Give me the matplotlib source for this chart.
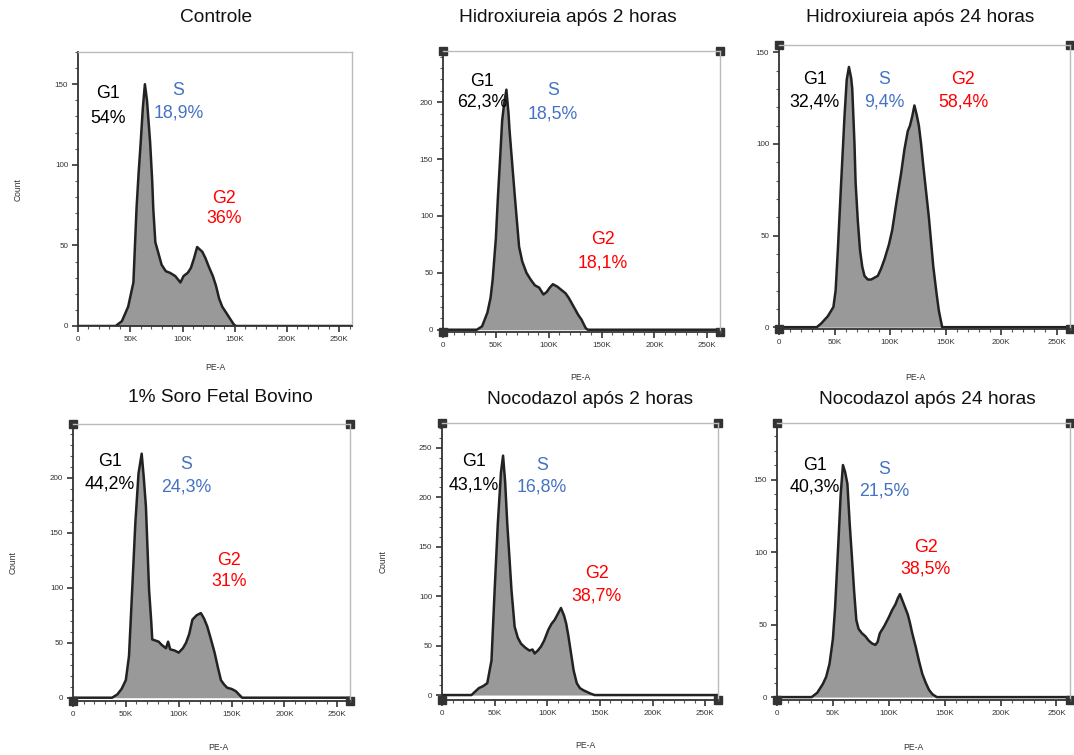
import numpy as np
import matplotlib
matplotlib.use('Agg')
import matplotlib.pyplot as plt
from matplotlib.ticker import MultipleLocator

plt.rcParams['font.family'] = ['Liberation Sans', 'DejaVu Sans']

# panel titles and gate percentages
titles = ['Controle', 'Hidroxiureia após 2 horas', 'Hidroxiureia após 24 horas',
          '1% Soro Fetal Bovino', 'Nocodazol após 2 horas', 'Nocodazol após 24 horas']
g1_pct = ['54%', '62,3%', '32,4%', '44,2%', '43,1%', '40,3%']
s_pct = ['18,9%', '18,5%', '9,4%', '24,3%', '16,8%', '21,5%']
g2_pct = ['36%', '18,1%', '58,4%', '31%', '38,7%', '38,5%']

# histogram outlines: PE-A (in K) and Count
pe_ctrl = [0, 36, 42, 48, 53, 56, 58, 60, 62, 64, 66, 69, 71, 72, 74, 77, 80, 84, 88, 93, 98,
           101, 105, 108, 111, 114, 119, 122, 125, 129, 132, 135, 138, 142, 145, 149, 151, 262]
cnt_ctrl = [0, 0, 3, 12, 27, 73, 95, 114, 135, 150, 140, 114, 90, 73, 52, 45, 38, 34, 33, 31, 27,
            31, 33, 36, 42, 49, 46, 42, 37, 31, 25, 17, 12, 8, 5, 1, 0, 0]

pe_hu2 = [0, 32, 37, 42, 45, 47, 50, 52, 54, 56, 58, 60, 62, 63, 66, 68, 70, 72, 75, 79, 83, 87,
          91, 95, 98, 101, 104, 108, 112, 116, 119, 122, 125, 128, 131, 135, 137, 262]
cnt_hu2 = [0, 0, 3, 15, 28, 44, 80, 117, 150, 184, 200, 211, 190, 175, 140, 117, 95, 73, 60, 50,
           44, 39, 37, 31, 33, 37, 40, 38, 35, 32, 28, 23, 18, 13, 9, 1.5, 0, 0]

pe_hu24 = [0, 34, 38, 44, 49, 51, 53, 56, 59, 61, 63, 65, 66, 68, 69, 71, 73, 75, 77, 80, 83, 86,
           89, 92, 95, 99, 102, 106, 110, 113, 116, 118, 120, 122, 124, 126, 128, 130, 135, 139,
           142, 144, 147, 262]
cnt_hu24 = [0, 0, 2, 6, 11, 20, 42, 79, 115, 135, 142, 136, 130, 100, 79, 58, 42, 33, 28, 26, 26,
            27, 28, 32, 37, 45, 53, 69, 84, 97, 107, 110, 115, 121, 116, 110, 100, 88, 60, 33,
            18, 9, 0, 0]

pe_sfb = [0, 37, 42, 46, 50, 53, 56, 59, 62, 65, 67, 69, 72, 74, 75, 78, 81, 84, 88, 90, 92, 96,
          100, 104, 107, 110, 113, 117, 121, 124, 127, 130, 134, 137, 140, 143, 146, 150, 154,
          157, 160, 262]
cnt_sfb = [0, 0, 3, 8, 16, 38, 98, 159, 204, 222, 200, 174, 98, 70, 53, 52, 51, 48, 45, 51, 44,
           43, 41, 45, 50, 58, 71, 75, 77, 72, 65, 55, 41, 28, 16, 12, 9, 8, 6, 3, 0, 0]

pe_noc2 = [0, 28, 32, 35, 39, 43, 47, 50, 53, 56, 58, 60, 62, 64, 66, 69, 72, 75, 79, 83, 86, 88,
           91, 94, 97, 101, 104, 107, 110, 113, 116, 118, 120, 123, 125, 128, 131, 134, 137, 141,
           145, 262]
cnt_noc2 = [0, 0, 4, 7, 9, 12, 35, 106, 173, 225, 242, 215, 173, 140, 106, 69, 58, 52, 48, 45, 46,
            42, 45, 49, 55, 66, 72, 76, 82, 88, 80, 72, 60, 39, 25, 12, 7, 5, 3.5, 1.5, 0, 0]

pe_noc24 = [0, 31, 36, 41, 44, 47, 50, 52, 55, 57, 59, 61, 63, 65, 67, 69, 71, 73, 76, 79, 82, 85,
            88, 90, 92, 96, 100, 103, 106, 108, 110, 112, 115, 117, 119, 121, 124, 127, 130, 133,
            136, 139, 143, 262]
cnt_noc24 = [0, 0, 3, 9, 14, 23, 40, 62, 108, 140, 160, 155, 147, 120, 97, 73, 53, 47, 44, 42, 39,
             37, 36, 38, 44, 49, 55, 60, 64, 68, 71, 67, 61, 57, 51, 44, 35, 25, 16, 10, 5, 2, 0, 0]

pe_all = [pe_ctrl, pe_hu2, pe_hu24, pe_sfb, pe_noc2, pe_noc24]
cnt_all = [cnt_ctrl, cnt_hu2, cnt_hu24, cnt_sfb, cnt_noc2, cnt_noc24]
y_max = [170, 245, 154, 249, 275, 189]
y_min = [0, -2, -1, -3, -5, -2]
xtick_vals = [0, 50, 100, 150, 200, 250]
xtick_labels = ['0', '50K', '100K', '150K', '200K', '250K']

# label positions in data units: (x in K, y of first line, y of second line)
g1_pos = [(29, 144, 129), (37, 218, 200), (32, 135, 123), (35, 215, 194), (30, 236, 212), (34, 160, 145)]
s_pos = [(96, 146, 132), (104, 210, 190), (95, 135, 123), (107, 212, 192), (95, 232, 210), (96, 157, 142)]
g2_pos = [(140, 79, 67), (151, 79, 59), (166, 135, 123), (148, 125, 106), (147, 123, 100), (133, 103, 88)]

# layout in pixels: left, right, top, bottom of each plot frame
W, H = 1074, 755
frames = [(78, 352, 52, 326), (443, 720, 51, 332), (779, 1070, 45, 329),
          (73, 350, 424, 701), (442, 718, 423, 700), (777, 1070, 423, 700)]
title_xy = [(216, 18), (568, 18), (920, 18), (220, 397), (590, 399), (927, 399)]
pea_xy = [(215, 368), (580, 378), (915, 377), (218, 748), (585, 745), (913, 747)]
count_xy = [(18, 190), None, None, (13, 563), (383, 562), None]
handles = [False, True, True, True, True, True]

fig = plt.figure(figsize=(W / 100, H / 100), dpi=100)

for i in range(6):
    l, r, t, b = frames[i]
    ax = fig.add_axes([l / W, 1 - b / H, (r - l) / W, (b - t) / H])
    x = np.array(pe_all[i]) * 1000
    y = np.array(cnt_all[i])
    ax.fill_between(x, 0, y, color='#999999', lw=0)
    ax.plot(x, y, color='#222222', lw=1.8, solid_joinstyle='round')
    ax.set_xlim(0, 262144)
    ax.set_ylim(y_min[i], y_max[i])

    ax.set_xticks([v * 1000 for v in xtick_vals])
    ax.set_xticklabels(xtick_labels)
    ax.xaxis.set_minor_locator(MultipleLocator(10000))
    ax.yaxis.set_major_locator(MultipleLocator(50))
    ax.yaxis.set_minor_locator(MultipleLocator(10))
    ax.tick_params(which='major', length=4, width=1.2, color='#333333', labelsize=5.8,
                   labelcolor='#333333', pad=3)
    ax.tick_params(which='minor', length=2, width=0.8, color='#555555')

    for side in ['left', 'bottom']:
        ax.spines[side].set_color('#333333')
        ax.spines[side].set_linewidth(1.3)
    for side in ['top', 'right']:
        ax.spines[side].set_color('#bbbbbb')
        ax.spines[side].set_linewidth(1.0)

    if handles[i]:
        ax.plot([0, 1, 0, 1], [0, 0, 1, 1], 's', color='#333333', ms=6,
                transform=ax.transAxes, clip_on=False)

    gx, gy1, gy2 = g1_pos[i]
    ax.text(gx * 1000, gy1, 'G1', color='black', fontsize=12.8, ha='center', va='center')
    ax.text(gx * 1000, gy2, g1_pct[i], color='black', fontsize=12.8, ha='center', va='center')
    sx, sy1, sy2 = s_pos[i]
    ax.text(sx * 1000, sy1, 'S', color='#4472c4', fontsize=12.8, ha='center', va='center')
    ax.text(sx * 1000, sy2, s_pct[i], color='#4472c4', fontsize=12.8, ha='center', va='center')
    rx, ry1, ry2 = g2_pos[i]
    ax.text(rx * 1000, ry1, 'G2', color='red', fontsize=12.8, ha='center', va='center')
    ax.text(rx * 1000, ry2, g2_pct[i], color='red', fontsize=12.8, ha='center', va='center')

    tx, ty = title_xy[i]
    fig.text(tx / W, 1 - ty / H, titles[i], fontsize=13.8, ha='center', va='center', color='#111111')
    px, py = pea_xy[i]
    fig.text(px / W, 1 - py / H, 'PE-A', fontsize=6.2, ha='center', va='center', color='#333333')
    if count_xy[i] is not None:
        cx, cy = count_xy[i]
        fig.text(cx / W, 1 - cy / H, 'Count', fontsize=6.2, ha='center', va='center',
                 rotation=90, color='#333333')

fig.savefig('out.png', dpi=100)
